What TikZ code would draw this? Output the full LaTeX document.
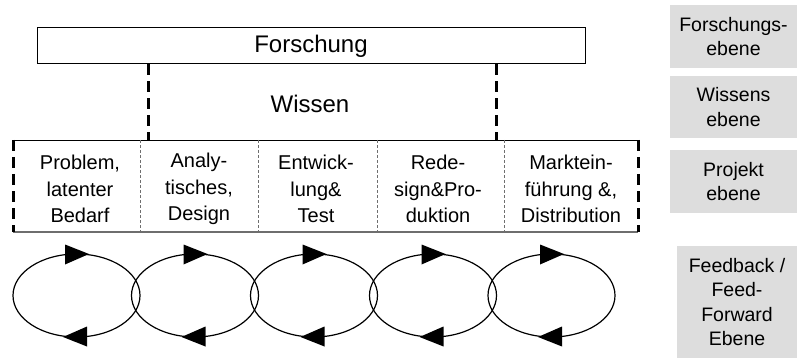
\documentclass[tikz,border=0pt]{standalone}
\usepackage{fontspec}
\setmainfont{Liberation Sans}
\usetikzlibrary{shapes.geometric}
\definecolor{levelgray}{RGB}{221,221,221}
\definecolor{rulegray}{RGB}{110,110,110}
\tikzset{
  bigtext/.style={font=\fontsize{24}{28}\selectfont},
  phasetext/.style={font=\fontsize{20}{26.5}\selectfont, align=center, inner sep=0pt},
  levelbox/.style={fill=levelgray, inner sep=0pt, align=center,
    font=\fontsize{19.5}{24.5}\selectfont},
  linkdash/.style={line width=3pt, dash pattern=on 11pt off 6pt},
  phasesep/.style={line width=0.8pt, rulegray, dash pattern=on 3pt off 2pt},
  loop/.style={ellipse, draw, line width=1.2pt, inner sep=0pt,
    minimum width=127pt, minimum height=83pt},
}
\begin{document}
\begin{tikzpicture}[x=1pt, y=-1pt]
\useasboundingbox (0,0) rectangle (797,358);

% research level
\node[draw, line width=1pt, minimum width=548pt, minimum height=36pt,
      inner sep=0pt, bigtext] (forschung) at (311,46) {Forschung};

% knowledge level
\node[bigtext] (wissen) at (310,104) {Wissen};
\coordinate (linkL) at (148,140);
\coordinate (linkR) at (496,140);
\draw[linkdash] (forschung.south -| linkL) -- (linkL);
\draw[linkdash] (forschung.south -| linkR) -- (linkR);

% project level: phase row
\coordinate (rowTL) at (13,140);
\coordinate (rowTR) at (638,140);
\coordinate (rowBL) at (13,232);
\coordinate (rowBR) at (638,232);
\draw[line width=0.8pt] (rowTL) -- (rowTR);
\draw[line width=1.6pt, rulegray] (rowBL) -- (rowBR);
\draw[linkdash] (rowTL) -- (rowBL);
\draw[linkdash] (rowTR) -- (rowBR);
\foreach \xs [count=\i] in {140,258,377,504}
  \draw[phasesep] (\xs,140) -- (\xs,232);

\node[phasetext] (p1) at (80,189)  {Problem,\\latenter\\Bedarf};
\node[phasetext] (p2) at (199,189) {Analy-\\tisches,\\Design};
\node[phasetext] (p3) at (316,189) {Entwick-\\lung\&\\Test};
\node[phasetext] (p4) at (438,189) {Rede-\\sign\&Pro-\\duktion};
\node[phasetext] (p5) at (571,189) {Marktein-\\führung \&,\\Distribution};

% feedback / feed-forward loops
\foreach \cx [count=\i] in {76.5,195,314,433,551.5} {
  \node[loop] (e\i) at (\cx,295.5) {};
  \fill ([shift={(-11.5,-51)}]e\i.center) -- ([shift={(-11.5,-31)}]e\i.center)
        -- ([shift={(12.5,-41.5)}]e\i.center) -- cycle;
  \fill ([shift={(10.5,31)}]e\i.center) -- ([shift={(10.5,51)}]e\i.center)
        -- ([shift={(-13.5,41.5)}]e\i.center) -- cycle;
}

% level labels
\node[levelbox, minimum width=127pt, minimum height=63pt] (l1) at (733.5,36.5)
  {Forschungs-\\ebene};
\node[levelbox, minimum width=127pt, minimum height=62pt] (l2) at (733.5,107)
  {Wissens\\ebene};
\node[levelbox, minimum width=127pt, minimum height=63pt] (l3) at (733.5,181.5)
  {Projekt\\ebene};
\node[levelbox, minimum width=120pt, minimum height=112pt] (l4) at (737,302)
  {Feedback /\\Feed-\\Forward\\Ebene};
\end{tikzpicture}
\end{document}
